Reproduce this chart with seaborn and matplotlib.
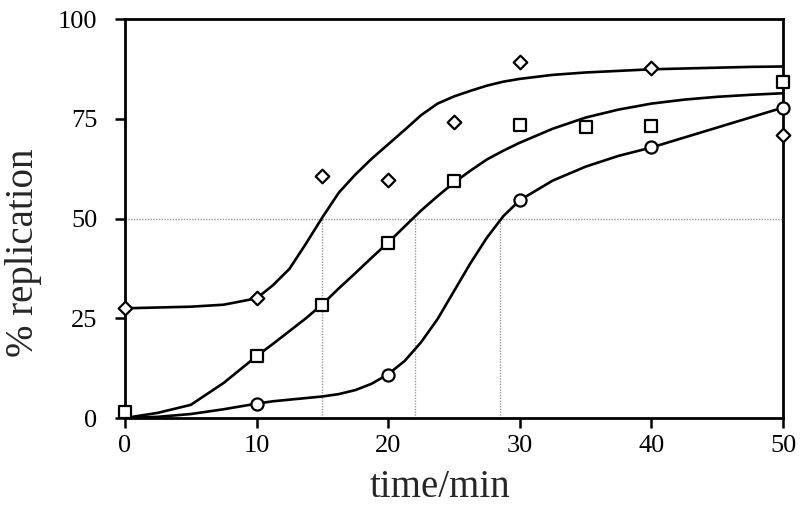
import pandas as pd
import matplotlib
matplotlib.use("Agg")
import matplotlib.pyplot as plt
import seaborn as sns

sns.set_style("ticks")
plt.rcParams['font.family'] = ['Liberation Serif', 'DejaVu Serif']

# measured points
t_diamond = [0, 10, 15, 20, 25, 30, 40, 50]
y_diamond = [27.5, 30.2, 60.6, 59.6, 74.3, 89.3, 87.7, 70.9]

t_square = [0, 10, 15, 20, 25, 30, 35, 40, 50]
y_square = [1.5, 15.5, 28.3, 43.8, 59.5, 73.4, 72.9, 73.3, 84.3]

t_circle = [10, 20, 30, 40, 50]
y_circle = [3.5, 10.9, 54.6, 67.9, 77.8]

# fitted curves (finer steps in the steep part)
t_fit = [0, 2.5, 5, 7.5, 10, 11.25, 12.5, 13.75, 15, 16.25, 17.5, 18.75, 20, 21.25,
         22.5, 23.75, 25, 26.25, 27.5, 28.75, 30, 32.5, 35, 37.5, 40, 42.5, 45, 47.5, 50]
fit_diamond = [27.5, 27.7, 27.9, 28.4, 30.0, 33.3, 37.4, 43.7, 50.3, 56.5, 61.0, 65.0, 68.6, 72.2,
               75.9, 78.8, 80.6, 82.0, 83.3, 84.3, 85.0, 86.0, 86.6, 87.0, 87.4, 87.6, 87.8, 88.0, 88.1]
fit_square = [0.0, 1.3, 3.3, 8.8, 15.5, 18.6, 21.8, 25.0, 28.5, 32.5, 36.3, 40.2, 44.0, 48.0,
              52.0, 55.6, 59.0, 62.0, 64.8, 67.0, 69.0, 72.5, 75.3, 77.3, 78.8, 79.8, 80.5, 81.0, 81.4]
fit_circle = [0.0, 0.3, 1.0, 2.2, 3.6, 4.2, 4.6, 5.0, 5.4, 6.0, 7.0, 8.6, 11.0, 14.3,
              19.0, 24.8, 31.8, 38.8, 45.2, 50.6, 54.6, 59.5, 63.0, 65.7, 67.8, 70.3, 72.8, 75.3, 77.8]

# half-replication guide lines
half_level = 50
half_times = [15, 22, 28.5]

fig = plt.figure(figsize=(8, 5.07), dpi=100)
ax = fig.add_axes([0.15625, 0.1755, 0.8225, 0.787])

# dotted guides
ax.hlines(half_level, 0, 50, colors='#9a9a9a', linestyles=(0, (1, 1)), linewidth=1, zorder=1)
ax.vlines(half_times, 0, half_level, colors='#9a9a9a', linestyles=(0, (1, 1)), linewidth=1, zorder=1)

# curves
for fit in [fit_diamond, fit_square, fit_circle]:
    sns.lineplot(x=t_fit, y=fit, color='black', linewidth=1.9, ax=ax,
                 estimator=None, sort=False, zorder=2)

# markers
pts = [(t_diamond, y_diamond, 'D', 48), (t_square, y_square, 's', 72), (t_circle, y_circle, 'o', 76)]
for tx, ty, mk, sz in pts:
    sns.scatterplot(x=tx, y=ty, marker=mk, s=sz, facecolor='white', edgecolor='black',
                    linewidth=1.6, ax=ax, clip_on=False, zorder=4)

ax.set_xlim(0, 50)
ax.set_ylim(0, 100)
ax.set_xticks([0, 10, 20, 30, 40, 50])
ax.set_yticks([0, 25, 50, 75, 100])

for side in ['left', 'right', 'top', 'bottom']:
    ax.spines[side].set_linewidth(2)
    ax.spines[side].set_color('black')

ax.tick_params(axis='both', direction='out', length=7, width=1.8, labelsize=19, colors='black')
ax.tick_params(axis='y', pad=13)
ax.tick_params(axis='x', pad=5)

ax.set_xlabel('time/min', fontsize=28)
ax.set_ylabel('% replication', fontsize=28)
ax.xaxis.label.set_va('baseline')
ax.xaxis.set_label_coords(0.479, -0.198)
ax.yaxis.set_label_coords(-0.126, 0.414)

fig.savefig('out.png', dpi=100)
